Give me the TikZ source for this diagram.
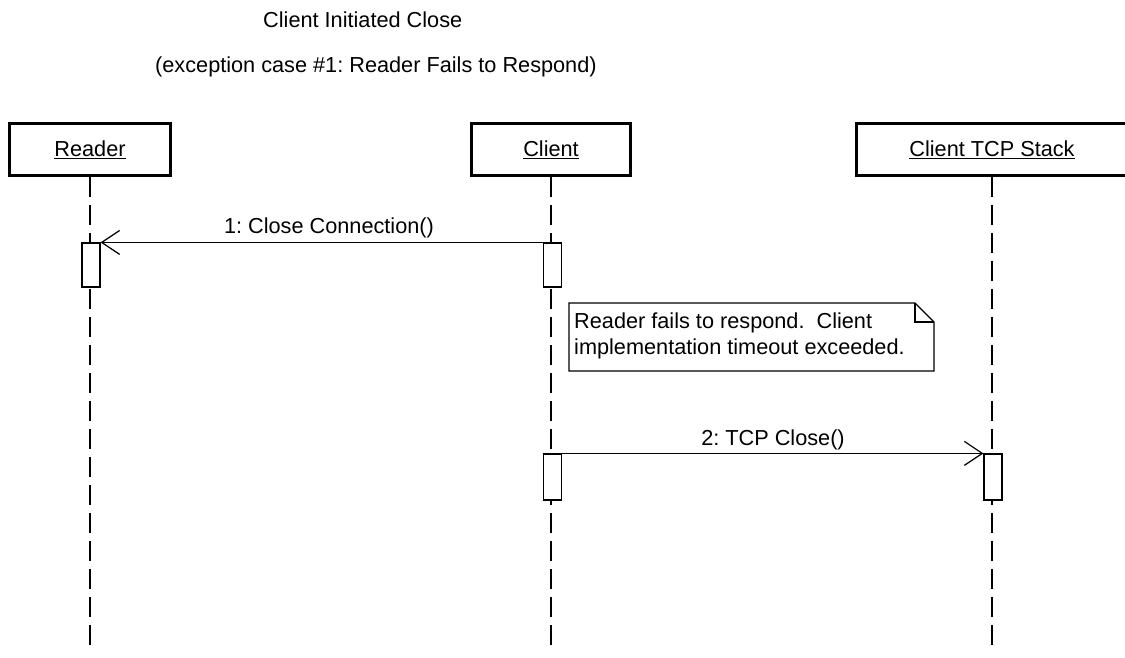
\documentclass[tikz,border=0pt]{standalone}
\usepackage{fontspec}
\setmainfont{Liberation Sans}
\usetikzlibrary{arrows.meta}
\frenchspacing
\begin{document}
\begin{tikzpicture}[x=1pt,y=-1pt,
  font=\fontsize{21.7}{26}\selectfont,
  actor/.style={draw,line width=2.8pt,fill=white,minimum height=52pt,inner sep=0pt},
  lifeline/.style={line width=1.2pt,dash pattern=on 20pt off 8pt},
  activation/.style={draw,line width=1.2pt,fill=white,minimum width=18pt,inner sep=0pt},
  msg/.style={line width=1.2pt,-{Straight Barb[length=18pt,width=24pt,line width=1.2pt]}},
  plain/.style={inner sep=0pt},
  notebox/.style={draw,line width=1.2pt,fill=white,line join=miter}
]
\useasboundingbox (0,0) rectangle (1125,657);

% heading
\node[plain,anchor=base west] (title) at (263,27) {Client Initiated Close};
\node[plain,anchor=base west] (subtitle) at (155,72) {(exception case \#1: Reader Fails to Respond)};

% participants
\node[actor,minimum width=161pt] (reader) at (90,149.5) {\underline{Reader}};
\node[actor,minimum width=159pt] (client) at (551,149.5) {\underline{Client}};
\node[actor,minimum width=271pt] (stack) at (992,149.5) {\underline{Client TCP Stack}};

% lifeline ends
\coordinate (readerEnd) at (90,648);
\coordinate (clientEnd) at (551,648);
\coordinate (stackEnd) at (992,648);

\draw[lifeline] (reader.south) -- (readerEnd);
\draw[lifeline] (client.south) -- (clientEnd);
\draw[lifeline] (stack.south) -- (stackEnd);

% activations
\node[activation,minimum height=44pt] (ra) at (91,265) {};
\node[activation,minimum height=44pt] (ca1) at (552.5,265) {};
\node[activation,minimum height=46pt] (ca2) at (552.5,477) {};
\node[activation,minimum height=46pt] (sa) at (993,477) {};

% messages
\draw[msg] (ca1.north west) -- (ra.north east);
\node[plain] (m1) at (329,228) {1: Close Connection()};
\draw[msg] (ca2.north east) -- (sa.north west);
\node[plain] (m2) at (773,440) {2: TCP Close()};

% note with folded corner
\coordinate (nA) at (569,303);
\coordinate (nB) at (915,303);
\coordinate (nC) at (934,322);
\coordinate (nD) at (934,371);
\coordinate (nE) at (569,371);
\coordinate (nF) at (915,322);
\draw[notebox] (nA) -- (nB) -- (nC) -- (nD) -- (nE) -- cycle;
\draw[line width=1.2pt] (nB) -- (nF) -- (nC);
\node[plain,anchor=base west] (note1) at (574,328) {Reader fails to respond.\ \ Client};
\node[plain,anchor=base west] (note2) at (574,354) {implementation timeout exceeded.};
\end{tikzpicture}
\end{document}
